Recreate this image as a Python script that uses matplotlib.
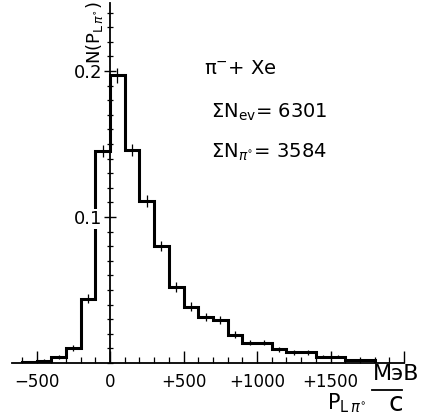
import matplotlib
matplotlib.use("Agg")
import matplotlib.pyplot as plt
import numpy as np
from matplotlib.lines import Line2D
from matplotlib.ticker import FixedLocator, MultipleLocator

# P_L(pi0) distribution, 100 MeV/c bins
p_edges = [-600, -500, -400, -300, -200, -100, 0, 100, 200, 300, 400, 500,
           600, 700, 800, 900, 1000, 1100, 1200, 1300, 1400, 1500, 1600,
           1700, 1800]
n_frac = [0.0008, 0.0015, 0.004, 0.010, 0.044, 0.145, 0.197, 0.146, 0.111,
          0.080, 0.052, 0.0385, 0.0317, 0.0295, 0.0195, 0.014, 0.014,
          0.0094, 0.0073, 0.0073, 0.0043, 0.0043, 0.002, 0.002]
n_err = [0.0007, 0.0009, 0.0015, 0.002, 0.003, 0.004, 0.005, 0.004, 0.004,
         0.0035, 0.0034, 0.003, 0.0027, 0.0027, 0.0024, 0.002, 0.002,
         0.0017, 0.0015, 0.0015, 0.0012, 0.0012, 0.0008, 0.0008]

x_ticks = [-500, 0, 500, 1000, 1500, 2000]
x_labels = ["\u2212500", "0", "+500", "+1000", "+1500", ""]
y_ticks = [0.1, 0.2]
y_labels = ["0.1", "0.2"]

plt.rcParams["font.family"] = ["DejaVu Sans"]
plt.rcParams["mathtext.fontset"] = "dejavusans"

W, H = 423, 418
fig = plt.figure(figsize=(W / 100, H / 100), dpi=100)
ax = fig.add_axes([12 / W, 55 / H, 392 / W, 360 / H])

edges = np.array(p_edges)
centers = (edges[:-1] + edges[1:]) / 2
ax.stairs(n_frac, edges, color="black", lw=2.2, baseline=0)
ax.errorbar(centers, n_frac, yerr=n_err, fmt="none", ecolor="black",
            elinewidth=0.9, capsize=0)

ax.set_xlim(-667, 2000)
ax.set_ylim(0, 0.2466)

for side in ("top", "right"):
    ax.spines[side].set_visible(False)
ax.spines["left"].set_position(("data", 0))
ax.spines["left"].set_linewidth(1.3)
ax.spines["bottom"].set_linewidth(1.3)

ax.xaxis.set_major_locator(FixedLocator(x_ticks))
ax.set_xticklabels(x_labels)
ax.xaxis.set_minor_locator(MultipleLocator(100))
ax.tick_params(axis="x", which="major", direction="in", length=8.6,
               width=1.0, pad=7, labelsize=12)
ax.tick_params(axis="x", which="minor", direction="in", length=4.3,
               width=0.9)

ax.yaxis.set_major_locator(FixedLocator(y_ticks))
ax.set_yticklabels(y_labels)
ax.yaxis.set_minor_locator(MultipleLocator(0.01))
ax.tick_params(axis="y", which="major", direction="inout", length=8.6,
               width=1.0, pad=1.5, labelsize=13)
ax.tick_params(axis="y", which="minor", direction="inout", length=5,
               width=0.9)
for lbl in ax.get_yticklabels():
    lbl.set_bbox(dict(facecolor="white", edgecolor="none", pad=1))

# axis labels / annotations
fig.text(94 / W, 1 - 33 / H, r"N(P$_{\mathrm{L}\,\pi^{\circ}}$)",
         rotation=90, ha="center", va="center", fontsize=13)
fig.text(204 / W, 1 - 68 / H, r"π$^{-}$+ Xe", ha="left", va="center",
         fontsize=14)
fig.text(211 / W, 1 - 112 / H, r"ΣN$_{\mathrm{ev}}$= 6301", ha="left",
         va="center", fontsize=14)
fig.text(211 / W, 1 - 152 / H, r"ΣN$_{\pi^{\circ}}$= 3584",
         ha="left", va="center", fontsize=14)

fig.text(396 / W, 1 - 374 / H, "МэВ", ha="center", va="center", fontsize=16)
fig.add_artist(Line2D([372 / W, 402 / W], [1 - 390 / H, 1 - 390 / H],
                      transform=fig.transFigure, color="black", lw=1.3))
fig.text(396 / W, 1 - 404 / H, "c", ha="center", va="center", fontsize=19)
fig.text(327 / W, 1 - 403 / H, r"P$_{\mathrm{L}\,\pi^{\circ}}$", ha="left",
         va="center", fontsize=15)

fig.savefig("out.png", dpi=100)
